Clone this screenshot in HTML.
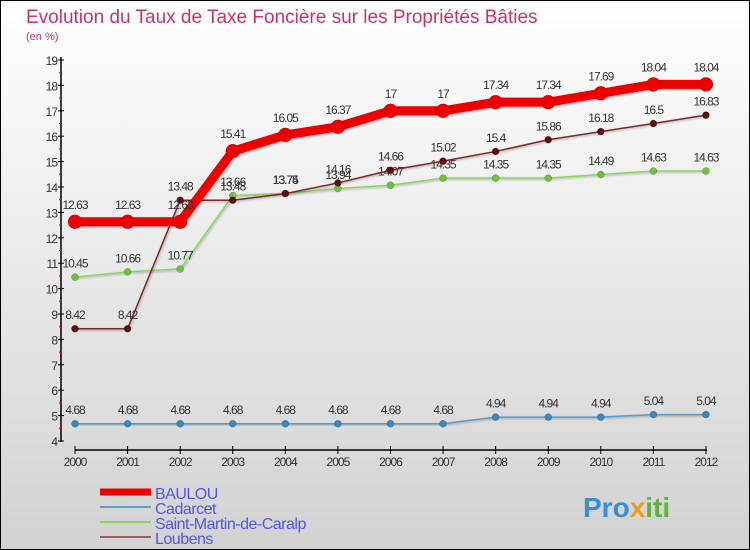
<!DOCTYPE html>
<html><head><meta charset="utf-8"><style>
body{margin:0}
#c{width:750px;height:550px;position:relative;overflow:hidden;font-family:"Liberation Sans",sans-serif}
</style></head><body>
<div id="c">
<svg id="s" width="750" height="550" xmlns="http://www.w3.org/2000/svg">
<defs>
<linearGradient id="bg" x1="0" y1="0" x2="0" y2="1"><stop offset="0" stop-color="#ffffff"/><stop offset="1" stop-color="#d2d2d2"/></linearGradient>
<filter id="sh" x="-20%" y="-20%" width="140%" height="140%"><feDropShadow dx="1" dy="1" stdDeviation="1" flood-color="#000" flood-opacity="0.3"/></filter>
</defs>
<rect x="0.5" y="0.5" width="749" height="549" fill="url(#bg)" stroke="#000" stroke-width="1"/>
<text x="26" y="23" font-size="19" fill="#d0306a">Evolution du Taux de Taxe Foncière sur les Propriétés Bâties</text>
<text x="26" y="40" font-size="11" fill="#d0306a">(en %)</text>
<g id="axes"></g>
<g id="series"></g>
<g id="legend"></g>
<text x="583" y="517" font-size="28" font-weight="bold" fill="#3a8fd0">Pro<tspan fill="#e8a020">x</tspan><tspan fill="#60b040">iti</tspan></text>
</svg>
</div>
<script>
const years=["2000","2001","2002","2003","2004","2005","2006","2007","2008","2009","2010","2011","2012"];
const yTicks=[4,5,6,7,8,9,10,11,12,13,14,15,16,17,18,19];
const baulou=[12.63,12.63,12.63,15.41,16.05,16.37,17,17,17.34,17.34,17.69,18.04,18.04];
const cadarcet=[4.68,4.68,4.68,4.68,4.68,4.68,4.68,4.68,4.94,4.94,4.94,5.04,5.04];
const saintMartin=[10.45,10.66,10.77,13.66,13.75,13.94,14.07,14.35,14.35,14.35,14.49,14.63,14.63];
const loubens=[8.42,8.42,13.48,13.48,13.74,14.16,14.66,15.02,15.4,15.86,16.18,16.5,16.83];
const names=["BAULOU","Cadarcet","Saint-Martin-de-Caralp","Loubens"];
const NS="http://www.w3.org/2000/svg";
const xs=i=>75+i*52.58;
const ys=v=>441-(v-4)*25.4;
function mk(tag,at,parent){const e=document.createElementNS(NS,tag);for(const k in at)e.setAttribute(k,at[k]);parent.appendChild(e);return e;}
const ax=document.getElementById('axes');
let l=mk('line',{x1:61,y1:57,x2:61,y2:442,stroke:'#000','stroke-width':1.5},ax);


l=mk('line',{x1:75,y1:450,x2:707,y2:450,stroke:'#000','stroke-width':1.5},ax);


yTicks.forEach(v=>{
  mk('line',{x1:58,y1:ys(v),x2:64,y2:ys(v),stroke:'#000'},ax);
  if(v<19)mk('line',{x1:59,y1:ys(v+0.5),x2:62,y2:ys(v+0.5),stroke:'#e00'},ax);
  const t=mk('text',{x:57,y:ys(v)+5,'font-size':12,'text-anchor':'end',fill:'#333','letter-spacing':'-1'},ax);
  t.textContent=v;
  
  
});
years.forEach((y,i)=>{
  mk('line',{x1:xs(i),y1:446,x2:xs(i),y2:454,stroke:'#000'},ax);
  const t=mk('text',{x:xs(i),y:466,'font-size':12,'text-anchor':'middle',fill:'#333','letter-spacing':'-1'},ax);
  t.textContent=y;
  
  
});
const sg=document.getElementById('series');
const defs=[
 {d:saintMartin,c:'#88d860',w:1.5,r:3.5,f:'#70c040',n:'saint-martin'},
 {d:loubens,c:'#7a2a2a',w:1.5,r:3.5,f:'#5a1010',n:'loubens'},
 {d:cadarcet,c:'#5a9ccc',w:1.5,r:3.5,f:'#3a88c0',n:'cadarcet'},
 {d:baulou,c:'#ee0000',w:9,r:7,f:'#ee0000',n:'baulou'}];
defs.forEach(s=>{
  const g=mk('g',{},sg);
  
  
  const p=mk('polyline',{points:s.d.map((v,i)=>xs(i)+','+ys(v)).join(' '),fill:'none',stroke:s.c,'stroke-width':s.w,'stroke-linejoin':'round',filter:'url(#sh)'},g);
  
  
  s.d.forEach((v,i)=>{
    const c=mk('circle',{cx:xs(i),cy:ys(v),r:s.r,fill:s.f,stroke:'rgba(0,0,0,0.3)','stroke-width':0.5},g);
    
    
    const t=mk('text',{x:xs(i),y:ys(v)-(s.r+6),'font-size':12,'text-anchor':'middle',fill:'#333','letter-spacing':'-1'},g);
    t.textContent=v;
    
    
  });
});
const lg=document.getElementById('legend');
const lc=['#ee0000','#5a9ccc','#88d860','#9a6060'],lw=[7,2,2,2];
names.forEach((n,i)=>{
  const y=492+i*15;
  const g=mk('g',{},lg);
  
  
  mk('line',{x1:100,y1:y,x2:151,y2:y,stroke:lc[i],'stroke-width':lw[i]},g);
  const t=mk('text',{x:155,y:y+7,'font-size':16,fill:'#5555ee','letter-spacing':'-0.5'},g);
  t.textContent=n;
});
</script>
</body></html>
